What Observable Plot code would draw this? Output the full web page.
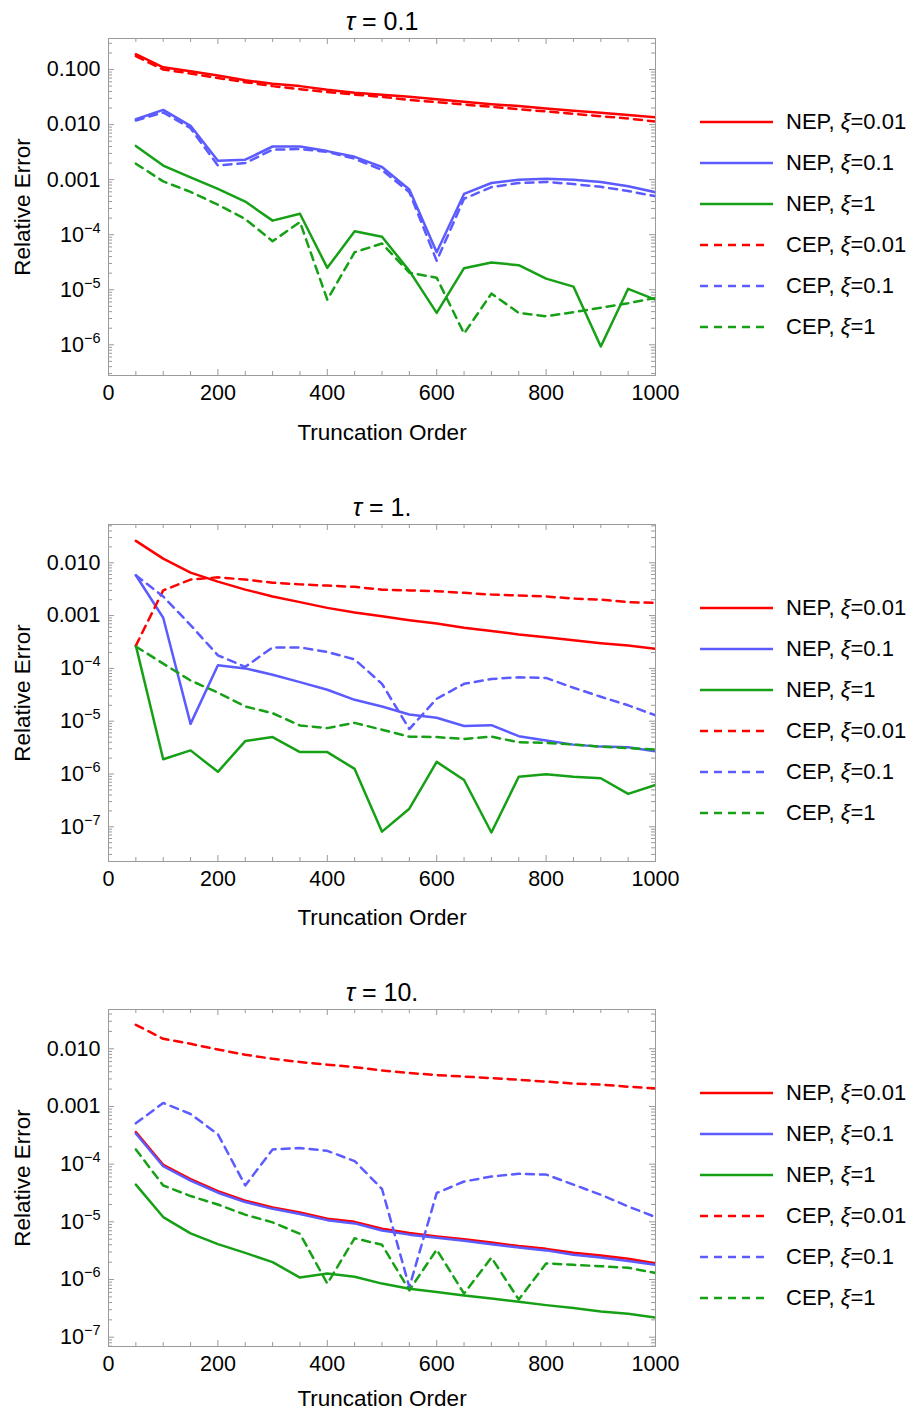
<!DOCTYPE html>
<html>
<head>
<meta charset="utf-8">
<script src="https://cdn.jsdelivr.net/npm/d3@7"></script>
<script src="https://cdn.jsdelivr.net/npm/@observablehq/plot@0.6"></script>
<style>
  html, body { margin: 0; padding: 0; background: #fff; }
  body { font-family: "Liberation Sans", Arial, sans-serif; }
  #wrap { position: relative; width: 911px; height: 1411px; overflow: hidden; background: #fff; }
  .panel { position: absolute; left: 0; }
  .legrow { position: absolute; left: 700px; height: 30px; display: flex; align-items: center; font-size: 22px; color: #000; white-space: nowrap; }
  .legrow svg { display: block; margin-right: 13px; }
  .legrow i { font-style: italic; }
</style>
</head>
<body>
<div id="wrap"></div>
<script>
// ---------------- data ----------------
const truncationOrder = [50,100,150,200,250,300,350,400,450,500,550,600,650,700,750,800,850,900,950,1000];

const seriesNames = ["NEP, ξ=0.01","NEP, ξ=0.1","NEP, ξ=1","CEP, ξ=0.01","CEP, ξ=0.1","CEP, ξ=1"];
const seriesColors = ["#ff0000","#5b5bff","#16a016","#ff0000","#5b5bff","#16a016"];
const seriesDashed = [false,false,false,true,true,true];

const panelTitles = ["τ = 0.1","τ = 1.","τ = 10."];

// tau = 0.1
const nep001_t01 = [0.19,0.11,0.093,0.078,0.064,0.055,0.050,0.043,0.038,0.035,0.032,0.029,0.026,0.0235,0.0217,0.0196,0.0178,0.0164,0.015,0.0136];
const nep01_t01  = [0.0125,0.0185,0.0095,0.0022,0.0023,0.0040,0.0040,0.0033,0.0026,0.0017,0.00066,0.000048,0.00055,0.00087,0.0010,0.00104,0.0010,0.00091,0.00076,0.00059];
const nep1_t01   = [0.0041,0.0018,0.0011,0.00068,0.0004,0.00018,0.00024,0.000025,0.000115,0.000092,0.000022,0.0000038,0.0000246,0.0000312,0.0000279,0.0000159,0.0000114,9.3e-7,0.0000104,6.6e-6];
const cep001_t01 = [0.175,0.10,0.085,0.070,0.059,0.050,0.044,0.039,0.035,0.032,0.028,0.0256,0.0232,0.021,0.019,0.0173,0.0157,0.0142,0.0129,0.0114];
const cep01_t01  = [0.0119,0.0166,0.0086,0.0018,0.0020,0.0035,0.0036,0.0032,0.0024,0.0015,0.00059,0.0000335,0.00045,0.00073,0.00087,0.00091,0.00083,0.00074,0.00062,0.0005];
const cep1_t01   = [0.00195,0.00093,0.0006,0.00035,0.000193,0.000076,0.00017,0.0000066,0.000048,0.000069,0.0000204,0.0000165,0.0000016,0.0000085,0.0000038,0.0000033,3.9e-6,4.7e-6,5.7e-6,7.1e-6];

// tau = 1
const nep001_t1 = [0.026,0.012,0.0065,0.0044,0.0031,0.0023,0.0018,0.0014,0.00114,0.00097,0.00082,0.00071,0.00059,0.00051,0.00044,0.00039,0.00034,0.0003,0.00027,0.000235];
const nep01_t1  = [0.0058,0.00091,0.0000089,0.000115,0.0001,0.000076,0.000055,0.0000394,0.0000254,0.000019,0.0000134,0.0000116,0.0000081,0.0000084,0.0000052,0.0000043,0.0000036,0.0000033,0.0000032,0.0000027];
const nep1_t1   = [0.00027,0.0000019,0.0000028,0.0000011,0.0000042,0.000005,0.0000026,0.0000026,0.00000125,8.1e-8,2.2e-7,1.7e-6,7.7e-7,7.8e-8,8.9e-7,9.9e-7,8.9e-7,8.3e-7,4.2e-7,6.2e-7];
const cep001_t1 = [0.00027,0.003,0.0048,0.0053,0.0048,0.0042,0.0039,0.0037,0.0035,0.0031,0.003,0.0029,0.0027,0.0025,0.0024,0.0023,0.0021,0.002,0.0018,0.00174];
const cep01_t1  = [0.0058,0.0023,0.00066,0.000177,0.000107,0.00025,0.00025,0.000205,0.000148,0.000051,0.0000071,0.0000266,0.000051,0.000063,0.000068,0.000066,0.000043,0.000029,0.00002,0.0000129];
const cep1_t1   = [0.00026,0.000123,0.000059,0.0000347,0.000019,0.0000142,0.0000083,0.0000074,0.0000093,0.0000069,0.0000051,0.000005,0.0000046,0.0000051,0.000004,0.0000039,0.0000036,0.0000033,0.0000031,0.0000029];

// tau = 10
const nep001_t10 = [0.00036,0.000097,0.000055,0.000034,0.0000232,0.0000178,0.0000145,0.0000113,0.00001,0.0000076,0.0000064,0.0000056,0.000005,0.0000044,0.0000038,0.0000034,0.0000029,0.0000026,0.0000023,0.0000019];
const nep01_t10  = [0.00034,0.000092,0.000052,0.000032,0.000022,0.0000168,0.0000137,0.0000107,0.0000094,0.0000071,0.000006,0.0000053,0.0000047,0.0000041,0.0000036,0.0000032,0.0000027,0.0000024,0.0000021,0.0000018];
const nep1_t10   = [0.0000442,0.0000121,0.0000063,0.0000041,0.0000029,0.000002,0.00000108,0.00000127,0.00000112,8.5e-7,6.9e-7,6.1e-7,5.3e-7,4.7e-7,4.1e-7,3.6e-7,3.2e-7,2.8e-7,2.55e-7,2.2e-7];
const cep001_t10 = [0.026,0.0149,0.0122,0.0097,0.0079,0.0067,0.0059,0.0053,0.0048,0.0042,0.0038,0.0035,0.0033,0.0031,0.0029,0.0027,0.0025,0.0024,0.0022,0.00206];
const cep01_t10  = [0.00051,0.00115,0.00074,0.00033,0.0000427,0.00018,0.00019,0.00017,0.000113,0.0000371,7.4e-7,0.0000316,0.00005,0.000061,0.000068,0.000066,0.0000442,0.0000295,0.0000185,0.0000121];
const cep1_t10   = [0.00018,0.0000427,0.000028,0.00002,0.0000133,0.0000098,0.0000062,8.5e-7,0.0000052,0.000004,6.5e-7,0.0000033,5.7e-7,0.0000024,4.5e-7,0.0000019,0.0000018,0.0000017,0.0000016,0.0000013];

// tick labels
const xTickLabels = [0,200,400,600,800,1000];
const xMinorTicks = [50,100,150,250,300,350,450,500,550,650,700,750,850,900,950];
const yTicks_t01 = [0.1,0.01,0.001,1e-4,1e-5,1e-6];
const yTicks_t1  = [0.01,0.001,1e-4,1e-5,1e-6,1e-7];
const yTicks_t10 = [0.01,0.001,1e-4,1e-5,1e-6,1e-7];

// ---------------- layout ----------------
const panels = [
  {title: panelTitles[0], series: [nep001_t01,nep01_t01,nep1_t01,cep001_t01,cep01_t01,cep1_t01], ticks: yTicks_t01, logDomain: [-6.558,-0.436], top: 0,   h: 486, xlabDy: 57},
  {title: panelTitles[1], series: [nep001_t1,nep01_t1,nep1_t1,cep001_t1,cep01_t1,cep1_t1],       ticks: yTicks_t1,  logDomain: [-7.657,-1.275], top: 486, h: 485, xlabDy: 56},
  {title: panelTitles[2], series: [nep001_t10,nep01_t10,nep1_t10,cep001_t10,cep01_t10,cep1_t10], ticks: yTicks_t10, logDomain: [-7.161,-1.319], top: 971, h: 440, xlabDy: 52}
];

const W = 911, ML = 108, MR = 911 - 655, MT = 38, FH = 337, FW = 655 - 108;
const GRAY = "#9a9a9a";

function yLabel(v) {
  if (v >= 0.001) return v.toFixed(3);
  return "10^" + Math.round(Math.log10(v));
}

const wrap = document.getElementById("wrap");

panels.forEach(p => {
  const lo = Math.pow(10, p.logDomain[0]), hi = Math.pow(10, p.logDomain[1]);
  const minorY = [];
  for (let k = Math.floor(p.logDomain[0]); k <= Math.ceil(p.logDomain[1]); k++) {
    for (let m = 2; m <= 9; m++) {
      const v = m * Math.pow(10, k);
      if (v > lo && v < hi) minorY.push(v);
    }
  }
  const majorY = p.ticks;
  const xMaj = xTickLabels;

  const lineMarks = p.series.map((vals, si) => {
    const rows = vals.map((v, i) => ({x: truncationOrder[i], y: v}));
    return Plot.line(rows, {
      x: "x", y: "y",
      stroke: seriesColors[si],
      strokeWidth: 2.5,
      strokeDasharray: seriesDashed[si] ? "8,6" : null,
      strokeLinejoin: "round",
      clip: true
    });
  });

  const svg = Plot.plot({
    width: W, height: p.h,
    marginLeft: ML, marginRight: MR, marginTop: MT, marginBottom: p.h - MT - FH,
    x: {domain: [0, 1000]},
    y: {type: "log", domain: [lo, hi]},
    style: {fontFamily: "'Liberation Sans', Arial, sans-serif", fontSize: "21px", color: "#000", background: "#fff", overflow: "visible"},
    marks: [
      Plot.tickX(xMaj, {x: d => d, stroke: GRAY, insetTop: FH - 6}),
      Plot.tickX(xMinorTicks, {x: d => d, stroke: GRAY, insetTop: FH - 4}),
      Plot.tickX(xMaj, {x: d => d, stroke: GRAY, insetBottom: FH - 6}),
      Plot.tickX(xMinorTicks, {x: d => d, stroke: GRAY, insetBottom: FH - 4}),
      Plot.tickY(majorY, {y: d => d, stroke: GRAY, insetRight: FW - 6}),
      Plot.tickY(minorY, {y: d => d, stroke: GRAY, insetRight: FW - 4}),
      Plot.tickY(majorY, {y: d => d, stroke: GRAY, insetLeft: FW - 6}),
      Plot.tickY(minorY, {y: d => d, stroke: GRAY, insetLeft: FW - 4}),
      Plot.frame({stroke: GRAY, strokeWidth: 1}),
      Plot.axisX(xMaj, {tickSize: 0, tickPadding: 9, label: null, tickFormat: d => String(d), fontSize: 21.5}),
      Plot.axisY(majorY, {tickSize: 0, tickPadding: 8, label: null, tickFormat: yLabel, fontSize: 21.5}),
      ...lineMarks,
      Plot.text([p.title], {text: d => d, frameAnchor: "top", lineAnchor: "middle", textAnchor: "middle", dy: -17, fontSize: 25}),
      Plot.text(["Truncation Order"], {text: d => d, frameAnchor: "bottom", lineAnchor: "middle", textAnchor: "middle", dy: p.xlabDy, fontSize: 22.5}),
      Plot.text(["Relative Error"], {text: d => d, frameAnchor: "left", lineAnchor: "middle", textAnchor: "middle", dx: -86, rotate: -90, fontSize: 22.5})
    ]
  });

  // typographic touch-ups: superscript exponents and italic tau
  d3.select(svg).selectAll("text").each(function() {
    const t = d3.select(this);
    const s = this.textContent;
    const m = s.match(/^10\^(-?\d+)$/);
    if (m) {
      t.text("");
      t.append("tspan").text("10");
      t.append("tspan").attr("dy", "-9").attr("font-size", "14.5px").text(m[1].replace("-", "\u2212"));
      return;
    }
    if (s.startsWith("τ")) {
      t.text("");
      t.append("tspan").attr("font-style", "italic").text("τ");
      t.append("tspan").text(s.slice(1));
    }
  });

  const div = document.createElement("div");
  div.className = "panel";
  div.style.top = p.top + "px";
  div.appendChild(svg);
  wrap.appendChild(div);

  // legend
  seriesNames.forEach((name, si) => {
    const row = document.createElement("div");
    row.className = "legrow";
    const cy = p.top + MT + 83.7 + 41 * si;
    row.style.top = (cy - 15) + "px";
    const ns = "http://www.w3.org/2000/svg";
    const sw = document.createElementNS(ns, "svg");
    sw.setAttribute("width", "73");
    sw.setAttribute("height", "10");
    const ln = document.createElementNS(ns, "line");
    ln.setAttribute("x1", "0"); ln.setAttribute("x2", seriesDashed[si] ? "68" : "73");
    ln.setAttribute("y1", "5"); ln.setAttribute("y2", "5");
    ln.setAttribute("stroke", seriesColors[si]);
    ln.setAttribute("stroke-width", "2.5");
    if (seriesDashed[si]) ln.setAttribute("stroke-dasharray", "8,6");
    sw.appendChild(ln);
    row.appendChild(sw);
    const parts = name.split("ξ");
    const span = document.createElement("span");
    span.appendChild(document.createTextNode(parts[0]));
    const it = document.createElement("i");
    it.textContent = "ξ";
    span.appendChild(it);
    span.appendChild(document.createTextNode(parts[1]));
    row.appendChild(span);
    wrap.appendChild(row);
  });
});
</script>
</body>
</html>
